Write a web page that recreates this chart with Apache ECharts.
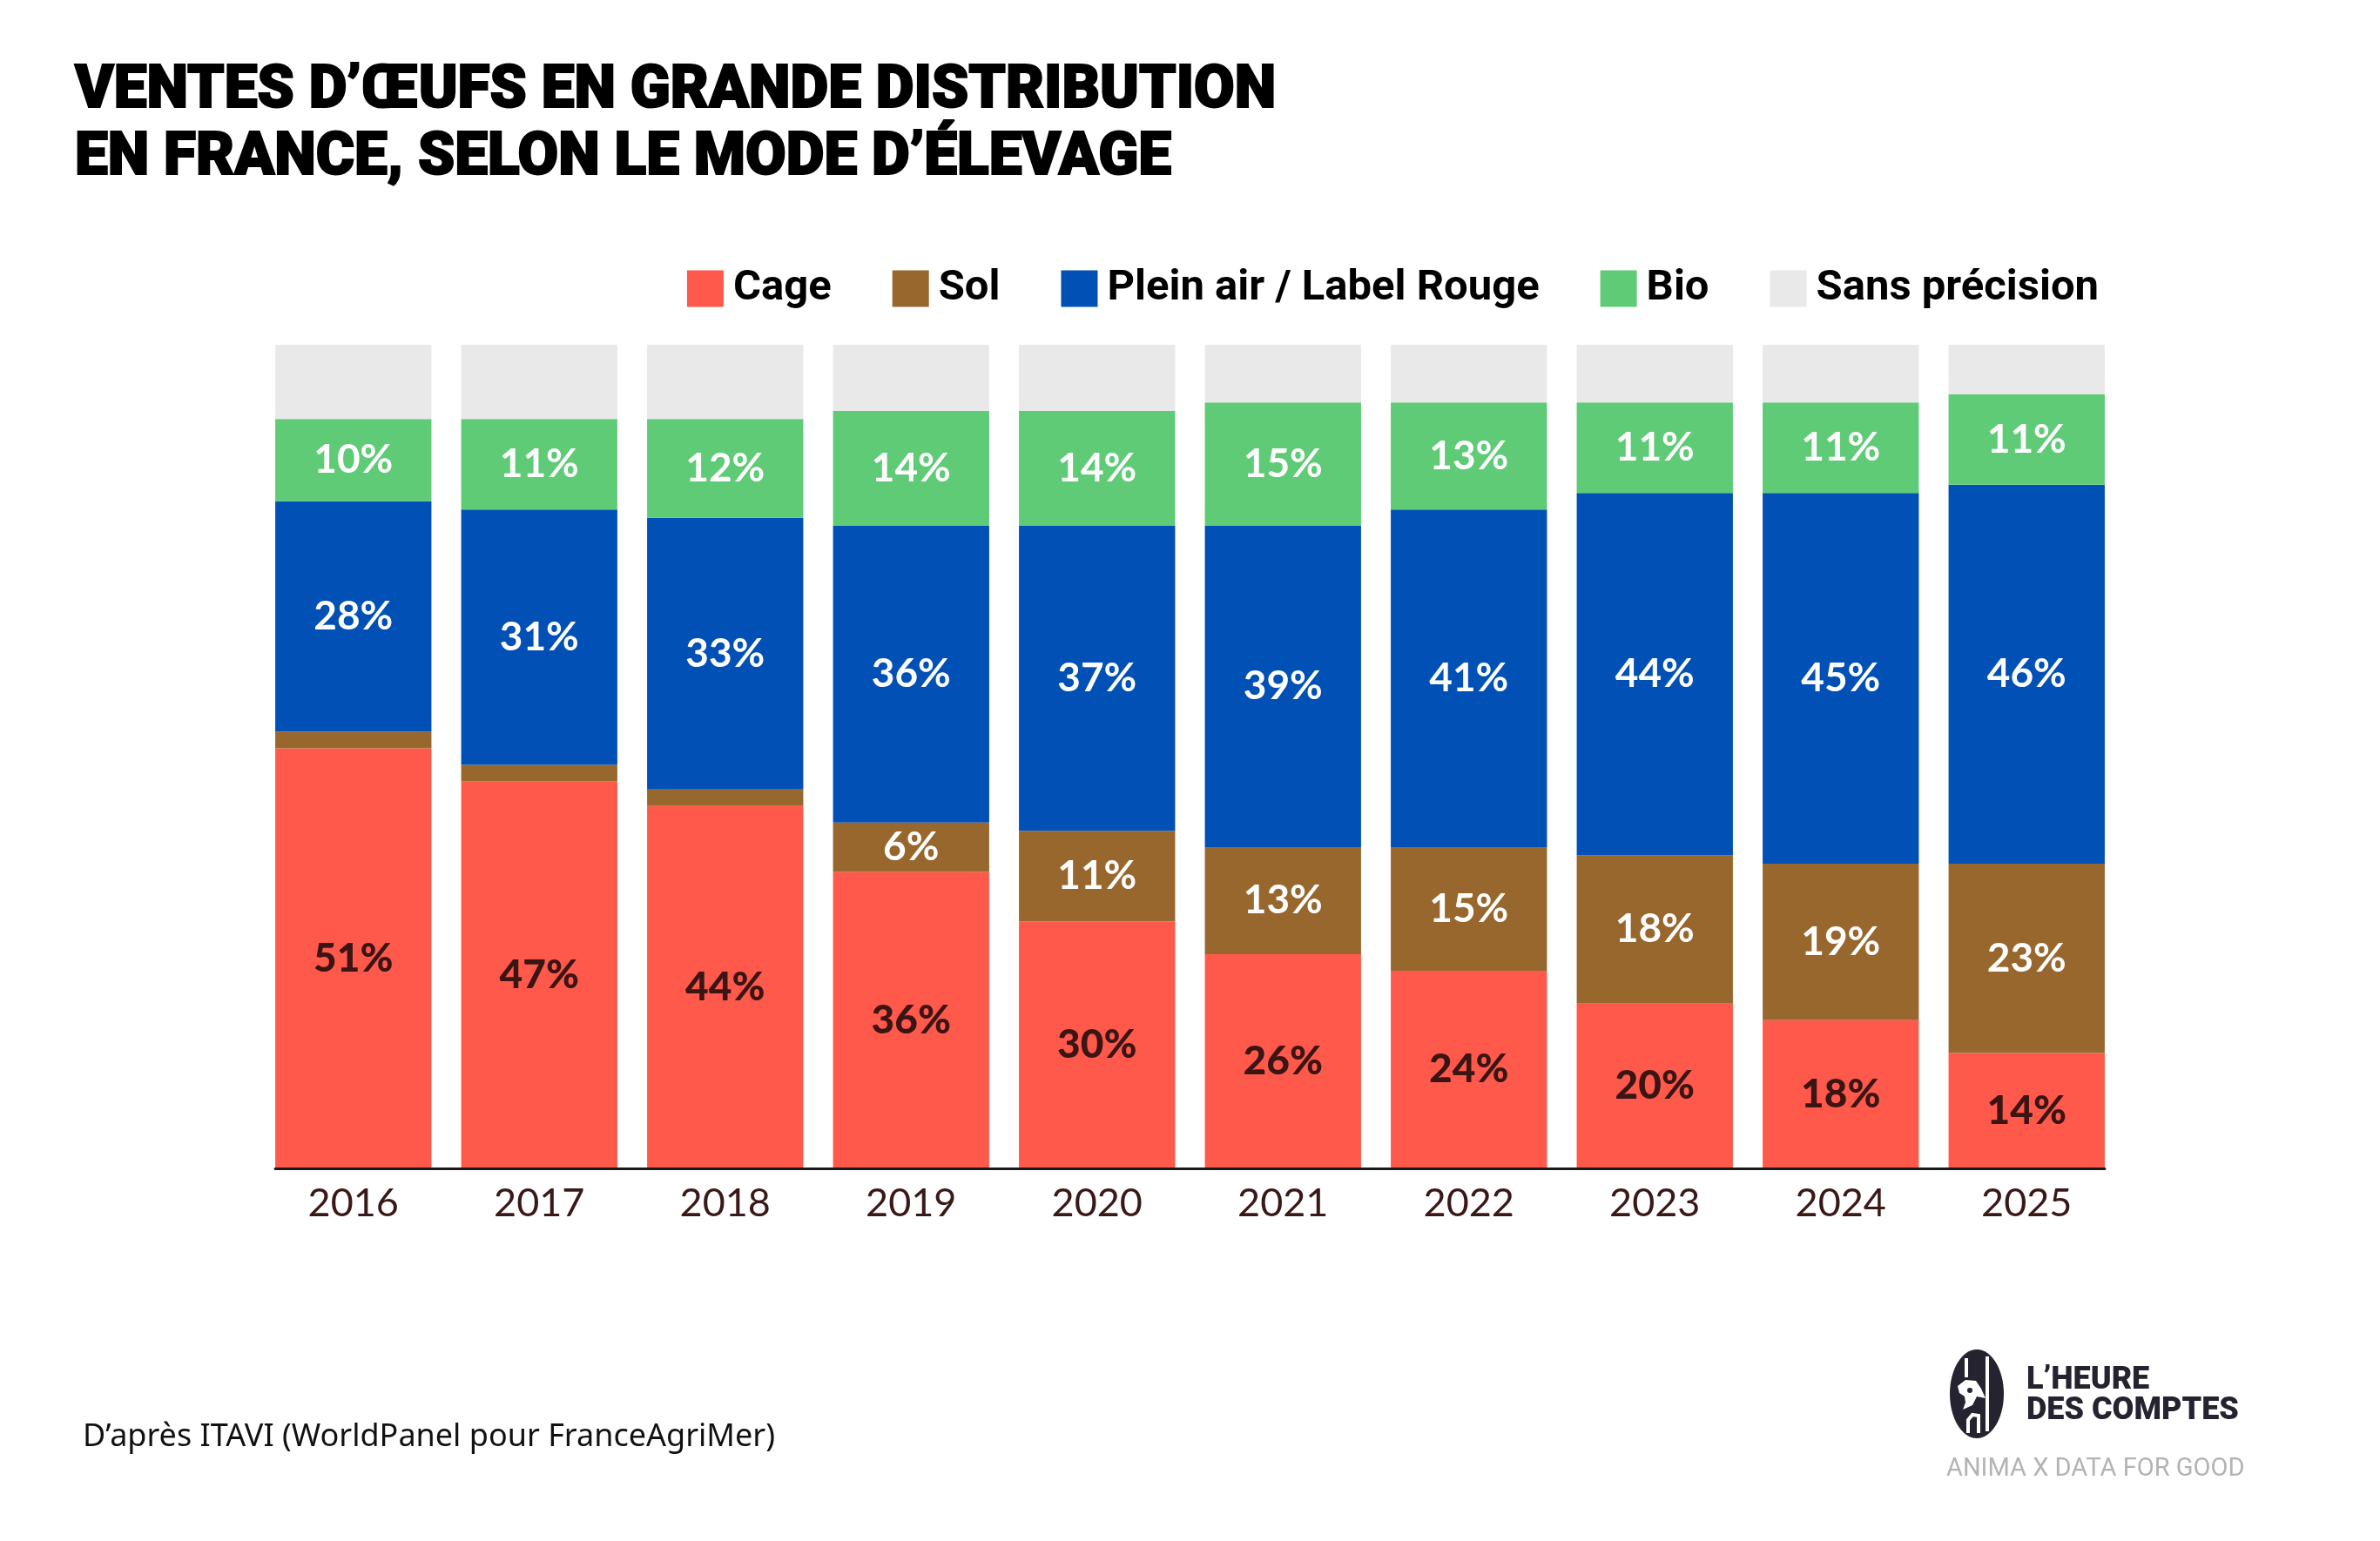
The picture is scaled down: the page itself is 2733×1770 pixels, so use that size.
<!DOCTYPE html>
<html>
<head>
<meta charset="utf-8">
<script src="https://cdn.jsdelivr.net/npm/echarts@6/dist/echarts.min.js"></script>
<style>
  html, body { margin: 0; padding: 0; background: #ffffff; }
  #chart { width: 2733px; height: 1770px; }
</style>
</head>
<body>
<div id="chart"></div>
<script>
// ---- Data (shares of eggs sold in French mass retail, by farming mode, %) ----
const years = ['2016', '2017', '2018', '2019', '2020', '2021', '2022', '2023', '2024', '2025'];
const cage = [51, 47, 44, 36, 30, 26, 24, 20, 18, 14];
const sol = [2, 2, 2, 6, 11, 13, 15, 18, 19, 23];
const pleinAir = [28, 31, 33, 36, 37, 39, 41, 44, 45, 46];
const bio = [10, 11, 12, 14, 14, 15, 13, 11, 11, 11];
const sansPrecision = [9, 9, 9, 8, 8, 7, 7, 7, 7, 6];
const seriesNames = ['Cage', 'Sol', 'Plein air / Label Rouge', 'Bio', 'Sans précision'];

const titleText = 'VENTES D’ŒUFS EN GRANDE DISTRIBUTION\nEN FRANCE, SELON LE MODE D’ÉLEVAGE';
const sourceText = 'D’après ITAVI (WorldPanel pour FranceAgriMer)';

const colors = ['#FF594B', '#98672D', '#0050B5', '#5FCB77', '#E9E9E9'];
const labelFont = 'Lato';

function lbl(color, weight) {
  return {
    show: true,
    position: 'inside',
    color: color,
    fontFamily: labelFont,
    fontWeight: weight,
    fontSize: 46,
    formatter: p => (p.value >= 5 ? p.value + '%' : '')
  };
}

const chart = echarts.init(document.getElementById('chart'), null, { renderer: 'canvas' });

const logo = '#25232F';
const gridSide = 299;
const gapRatio = 0.16;
const bandWidth = (2733 - 2 * gridSide) / years.length;
const lineInset = gridSide + bandWidth * gapRatio / 2;

const option = {
  backgroundColor: '#ffffff',
  animation: false,
  title: {
    text: titleText,
    left: 81,
    top: 63,
    textStyle: {
      fontFamily: 'Roboto',
      fontWeight: 900,
      fontSize: 67.6,
      lineHeight: 77,
      color: '#000000',
      textBorderColor: '#000000',
      textBorderWidth: 2
    }
  },
  legend: {
    data: seriesNames,
    right: 318,
    top: 302,
    icon: 'rect',
    itemWidth: 42,
    itemHeight: 42,
    itemGap: 70,
    textStyle: {
      fontFamily: 'Roboto',
      fontWeight: 700,
      fontSize: 49,
      color: '#000000',
      padding: [0, 0, 0, 6]
    }
  },
  grid: [
    { left: gridSide, right: gridSide, top: 396, bottom: 428, containLabel: false },
    { left: lineInset, right: lineInset, top: 396, bottom: 428, containLabel: false }
  ],
  xAxis: [
    {
      type: 'category',
      data: years,
      gridIndex: 0,
      axisLine: { show: false },
      axisTick: { show: false },
      axisLabel: {
        margin: 18,
        fontFamily: 'Lato',
        fontSize: 45,
        color: '#3a1818'
      }
    },
    {
      type: 'value',
      gridIndex: 1,
      min: 0,
      max: 1,
      axisLine: { show: true, onZero: false, lineStyle: { color: '#1a1a1a', width: 3 } },
      axisTick: { show: false },
      axisLabel: { show: false },
      splitLine: { show: false },
      z: 10
    }
  ],
  yAxis: [
    { type: 'value', gridIndex: 0, min: 0, max: 100, show: false, splitLine: { show: false } },
    { type: 'value', gridIndex: 1, min: 0, max: 100, show: false, splitLine: { show: false } }
  ],
  series: [
    { name: seriesNames[0], type: 'bar', stack: 'total', data: cage, barCategoryGap: '16%',
      itemStyle: { color: colors[0] }, label: lbl('#3b1414', 900) },
    { name: seriesNames[1], type: 'bar', stack: 'total', data: sol,
      itemStyle: { color: colors[1] }, label: lbl('#ffffff', 700) },
    { name: seriesNames[2], type: 'bar', stack: 'total', data: pleinAir,
      itemStyle: { color: colors[2] }, label: lbl('#ffffff', 700) },
    { name: seriesNames[3], type: 'bar', stack: 'total', data: bio,
      itemStyle: { color: colors[3] }, label: lbl('#ffffff', 700) },
    { name: seriesNames[4], type: 'bar', stack: 'total', data: sansPrecision,
      itemStyle: { color: colors[4] }, label: { show: false } }
  ],
  graphic: [
    {
      type: 'text', left: 95, top: 1633,
      style: { text: sourceText, fontFamily: 'Noto Sans', fontSize: 36, fill: '#111111' }
    },
    {
      type: 'group', left: 2239, top: 1550,
      children: [
        { type: 'ellipse', shape: { cx: 31, cy: 51, rx: 31, ry: 51 }, style: { fill: logo } },
        { type: 'rect', shape: { x: 41, y: 8, width: 4, height: 86 }, style: { fill: '#ffffff' } },
        { type: 'rect', shape: { x: 17, y: 10, width: 4, height: 22 }, style: { fill: '#ffffff' } },
        { type: 'polygon', shape: { points: [[9, 42], [18, 35], [30, 36], [36, 45], [41, 56], [31, 54], [26, 64], [15, 69], [18, 61], [17, 54], [11, 50]] },
          style: { fill: '#ffffff' } },
        { type: 'circle', shape: { cx: 23, cy: 47, r: 3 }, style: { fill: logo } },
        { type: 'polyline', shape: { points: [[21, 96], [21, 81], [26, 75], [33, 76], [33, 96]] },
          style: { stroke: '#ffffff', lineWidth: 4, fill: null } }
      ]
    },
    {
      type: 'text', left: 2327, top: 1568,
      style: { text: 'L’HEURE\nDES COMPTES', fontFamily: 'Roboto', fontWeight: 900, fontSize: 36, lineHeight: 35, fill: logo }
    },
    {
      type: 'text', left: 2235, top: 1673,
      style: { text: 'ANIMA X DATA FOR GOOD', fontFamily: 'Roboto', fontWeight: 400, fontSize: 29, fill: '#b3b3b3' }
    }
  ]
};

chart.setOption(option);
</script>
</body>
</html>
